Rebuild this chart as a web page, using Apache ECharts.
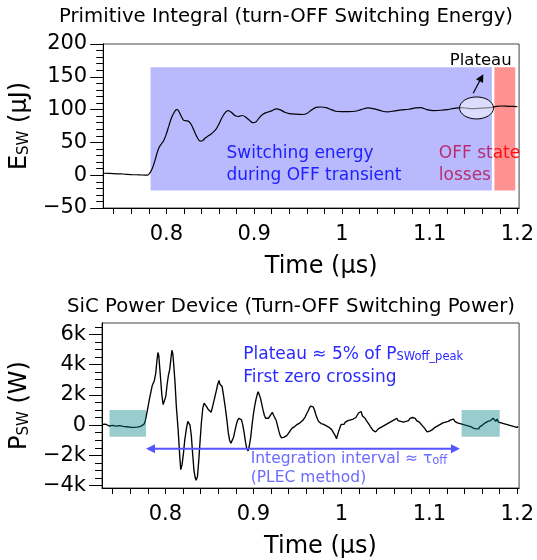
<!DOCTYPE html>
<html><head><meta charset="utf-8">
<script src="https://cdn.jsdelivr.net/npm/echarts@6/dist/echarts.min.js"></script>
<style>html,body{margin:0;padding:0;background:#fff}#c{width:537px;height:560px}</style>
</head><body><div id="c"></div>
<script>
const FONT = 'DejaVu Sans';

// ---- axis ticks ----
const timeLabels = [0.8, 0.9, 1, 1.1, 1.2];
const timeTicks = [0.74, 0.76, 0.78, 0.8, 0.82, 0.84, 0.86, 0.88, 0.9, 0.92, 0.94, 0.96, 0.98, 1, 1.02, 1.04, 1.06, 1.08, 1.1, 1.12, 1.14, 1.16, 1.18, 1.2];
const energyLabels = [-50, 0, 50, 100, 150, 200];
const energyTicks = [-50, -40, -30, -20, -10, 0, 10, 20, 30, 40, 50, 60, 70, 80, 90, 100, 110, 120, 130, 140, 150, 160, 170, 180, 190, 200];
const powerLabels = [-4000, -2000, 0, 2000, 4000, 6000];
const powerTicks = [-4000, -3500, -3000, -2500, -2000, -1500, -1000, -500, 0, 500, 1000, 1500, 2000, 2500, 3000, 3500, 4000, 4500, 5000, 5500, 6000, 6500];

// ---- data: switching energy (µJ) vs time (µs) ----
const energyTrace = [
  [0.728, 3], [0.74, 2.5], [0.75, 1.8], [0.76, 1], [0.77, 0.4], [0.7785, 0], [0.781, 3], [0.7835, 9],
  [0.786, 18], [0.789, 32], [0.7915, 42], [0.7945, 48], [0.797, 53], [0.8, 63], [0.803, 76], [0.806, 88],
  [0.809, 96], [0.8115, 100], [0.8135, 99], [0.8165, 91], [0.8195, 84], [0.8225, 83], [0.8255, 82],
  [0.8285, 77], [0.8315, 68], [0.835, 58], [0.8385, 52], [0.8415, 53], [0.8445, 57], [0.848, 60],
  [0.852, 64], [0.856, 69], [0.8595, 77], [0.8635, 88], [0.8675, 96], [0.8705, 98.5], [0.874, 96],
  [0.878, 91], [0.882, 89.5], [0.8865, 91], [0.8905, 88.5], [0.8945, 84], [0.8985, 80], [0.902, 81],
  [0.9055, 87], [0.91, 93], [0.915, 96], [0.92, 98], [0.925, 101], [0.93, 99.5], [0.935, 96], [0.94, 94],
  [0.9475, 93], [0.955, 92.5], [0.96, 94], [0.965, 99], [0.9705, 103.5], [0.976, 104], [0.982, 103],
  [0.988, 100], [0.993, 97.5], [1.0, 97], [1.008, 97], [1.015, 97.5], [1.022, 100], [1.03, 102.5],
  [1.037, 101], [1.045, 98], [1.052, 96.5], [1.06, 98], [1.068, 99.5], [1.076, 100.5], [1.084, 102.5],
  [1.09, 103], [1.097, 100], [1.105, 98.5], [1.113, 99], [1.12, 100], [1.128, 102], [1.136, 103],
  [1.143, 102], [1.15, 101.5], [1.157, 102], [1.164, 102.5], [1.171, 103.5], [1.176, 105], [1.182, 105.5],
  [1.19, 105], [1.2, 104.5]
];

// ---- data: switching power (W) vs time (µs) ----
const powerTrace = [
  [0.728, 40], [0.730, -30], [0.732, 60], [0.734, 10], [0.736, -60], [0.738, 30], [0.740, -20], [0.742, 50],
  [0.744, -70], [0.746, 0], [0.748, -40], [0.750, 40], [0.752, -90], [0.754, -20], [0.756, -110], [0.758, -50],
  [0.760, -140], [0.762, -60], [0.764, -150], [0.766, -80], [0.768, -130], [0.770, -40], [0.772, -90],
  [0.774, 20], [0.776, 80], [0.777, 230], [0.779, 800], [0.782, 1750], [0.785, 2600], [0.7875, 2950],
  [0.789, 3400], [0.7905, 4300], [0.7915, 4800], [0.7925, 4600], [0.794, 3500], [0.796, 2000],
  [0.7975, 1350], [0.799, 1300], [0.8005, 1900], [0.802, 2700], [0.8035, 3300], [0.805, 3700],
  [0.8065, 4500], [0.8075, 4950], [0.8085, 4700], [0.8095, 4000], [0.811, 2800], [0.8125, 1200],
  [0.8145, -300], [0.8165, -2200], [0.8175, -2950], [0.819, -2600], [0.8205, -1900], [0.822, -1000],
  [0.824, -200], [0.8255, 250], [0.8265, 350], [0.828, 0], [0.8295, -700], [0.831, -1900], [0.8325, -3000],
  [0.834, -3500], [0.835, -3650], [0.8365, -3400], [0.838, -2300], [0.8395, -1000], [0.841, 200],
  [0.8425, 1100], [0.844, 1450], [0.8455, 1350], [0.847, 1200], [0.8485, 1050], [0.8505, 950], [0.852, 850],
  [0.854, 1300], [0.856, 1800], [0.858, 2300], [0.8595, 2700], [0.861, 2950], [0.862, 2700], [0.863, 2800],
  [0.8645, 2550], [0.866, 2000], [0.868, 1200], [0.870, 300], [0.8715, -500], [0.873, -1000], [0.8745, -1200],
  [0.876, -1100], [0.8775, -800], [0.879, -400], [0.8805, 0], [0.882, 300], [0.8835, 450], [0.885, 500],
  [0.8865, 350], [0.888, 0], [0.8895, -500], [0.891, -1100], [0.8925, -1550], [0.894, -1700], [0.8955, -1350],
  [0.897, -800], [0.8985, 0], [0.900, 700], [0.9015, 1250], [0.903, 1700], [0.9045, 2050], [0.9055, 2200],
  [0.9065, 2100], [0.908, 1800], [0.9095, 1400], [0.911, 1000], [0.9125, 650], [0.914, 450], [0.9155, 350],
  [0.917, 450], [0.9185, 500], [0.920, 700], [0.9215, 850], [0.923, 650], [0.9245, 600], [0.926, 300],
  [0.9275, -50], [0.929, -400], [0.9305, -700], [0.932, -850], [0.9335, -950], [0.935, -800], [0.9365, -900],
  [0.938, -700], [0.9395, -600], [0.941, -450], [0.9425, -350], [0.944, -200], [0.9455, -250], [0.947, -100],
  [0.9485, -150], [0.950, 50], [0.9515, 0], [0.953, 150], [0.9545, 100], [0.956, 300], [0.9575, 400],
  [0.959, 550], [0.9605, 750], [0.962, 900], [0.9635, 1100], [0.965, 1250], [0.9665, 1350], [0.968, 1200],
  [0.9695, 1000], [0.971, 700], [0.9725, 450], [0.974, 250], [0.9755, 200], [0.977, 100], [0.9785, 150],
  [0.980, 50], [0.9815, 100], [0.983, -50], [0.9845, 0], [0.986, -150], [0.9875, -200], [0.989, -300],
  [0.9905, -450], [0.992, -550], [0.9935, -750], [0.9945, -900], [0.9955, -700], [0.997, -400], [0.9985, -150],
  [1.000, 50], [1.0015, 150], [1.003, 50], [1.0045, 200], [1.006, 150], [1.0075, 300], [1.009, 200],
  [1.0105, 350], [1.012, 250], [1.0135, 400], [1.015, 300], [1.0165, 500], [1.018, 450], [1.0195, 800],
  [1.021, 700], [1.0225, 900], [1.024, 600], [1.0255, 650], [1.027, 450], [1.0285, 300], [1.030, 200],
  [1.0315, 50], [1.033, -100], [1.0345, -200], [1.036, -350], [1.0375, -300], [1.039, -450], [1.0405, -350],
  [1.042, -250], [1.0435, -300], [1.045, -150], [1.0465, -200], [1.048, -50], [1.0495, -100], [1.051, 50],
  [1.0525, 0], [1.054, 150], [1.0555, 100], [1.057, 250], [1.0585, 150], [1.060, 350], [1.0615, 250],
  [1.063, 450], [1.0645, 300], [1.066, 400], [1.0675, 250], [1.069, 350], [1.0705, 200], [1.072, 300],
  [1.0735, 250], [1.075, 350], [1.0765, 300], [1.078, 450], [1.0795, 350], [1.081, 500], [1.0825, 400],
  [1.084, 450], [1.0855, 300], [1.087, 350], [1.0885, 200], [1.090, 150], [1.0915, 0], [1.093, -50],
  [1.0945, -200], [1.096, -300], [1.0975, -450], [1.099, -550], [1.1005, -400], [1.102, -450], [1.1035, -300],
  [1.105, -250], [1.1065, -150], [1.108, -200], [1.1095, -50], [1.111, -100], [1.1125, 50], [1.114, 0],
  [1.1155, 150], [1.117, 100], [1.1185, 200], [1.120, 150], [1.1215, 250], [1.123, 200], [1.1245, 350],
  [1.126, 300], [1.1275, 400], [1.129, 250], [1.1305, 300], [1.132, 150], [1.1335, 250], [1.135, 100],
  [1.1365, 200], [1.138, 50], [1.1395, 150], [1.141, 0], [1.1425, 100], [1.144, -50], [1.1455, 50],
  [1.147, -100], [1.1485, -50], [1.150, -200], [1.1515, -150], [1.153, -250], [1.1545, -150], [1.156, -250],
  [1.1575, -100], [1.159, -150], [1.1605, 0], [1.162, 50], [1.1635, 150], [1.165, 100], [1.1665, 250],
  [1.168, 150], [1.1695, 300], [1.171, 200], [1.1725, 450], [1.174, 350], [1.1755, 250], [1.177, 400],
  [1.1785, 200], [1.180, 300], [1.1815, 150], [1.183, 250], [1.1845, 100], [1.186, 200], [1.1875, 50],
  [1.189, 150], [1.1905, 0], [1.192, 100], [1.1935, -50], [1.195, 50], [1.1965, -100], [1.198, -50],
  [1.1995, -150], [1.201, -100]
];

// ---- annotation regions (data units: [t0, t1, y0, y1]) ----
const transientRegion = [0.782, 1.171, -23.5, 164.5];
const offStateRegion = [1.1739, 1.1976, -23.5, 164.5];
const plateauEllipse = [1.1535, 102.5];          // centre (t, E)
const plateauArrow = [[1.1497, 125], [1.1612, 154]];
const preWindow = [0.7365, 0.778, -770, 1000];
const postWindow = [1.1367, 1.18, -770, 1000];
const integrationSpan = [0.778, 1.1348, -1570];

const minus = s => String(s).replace('-', '\u2212');

const chart = echarts.init(document.getElementById('c'), null, {renderer: 'canvas'});

function xAxisCfg(grid) {
  return {
    type: 'value', gridIndex: grid, position: 'bottom', min: 0.728, max: 1.202,
    axisLine: {show: true, onZero: false, lineStyle: {color: '#000', width: 1}},
    axisTick: {show: true, customValues: timeTicks, length: 6, lineStyle: {color: '#000'}},
    axisLabel: {customValues: timeLabels, fontSize: 21, fontFamily: FONT, color: '#000', margin: 16},
    splitLine: {show: false},
    name: 'Time (μs)', nameLocation: 'middle', nameGap: 47,
    nameTextStyle: {fontSize: 24, fontFamily: FONT, color: '#000', padding: [0, 0, 0, 20]}
  };
}
const nameRich = {
  a: {fontSize: 24, fontFamily: FONT, color: '#000'},
  b: {fontSize: 15, fontFamily: FONT, color: '#000', verticalAlign: 'bottom'}
};
// main axis: all ticks short; overlay axis: long major ticks
function yMain(grid, min, max, ticks, labels, fmt, name) {
  return {
    type: 'value', gridIndex: grid, position: 'left', offset: 0, min: min, max: max,
    axisLine: {show: true, onZero: false, lineStyle: {color: '#000'}},
    axisTick: {show: true, customValues: ticks, length: 7, lineStyle: {color: '#000'}},
    axisLabel: {customValues: labels, fontSize: 21, fontFamily: FONT, color: '#000', margin: 16, formatter: fmt},
    splitLine: {show: false},
    name: name, nameLocation: 'middle', nameGap: 61, nameTextStyle: {rich: nameRich}
  };
}
function yMajor(grid, min, max, labels) {
  return {
    type: 'value', gridIndex: grid, position: 'left', offset: 0, min: min, max: max,
    axisLine: {show: true, onZero: false, lineStyle: {color: '#000'}},
    axisLabel: {show: false}, splitLine: {show: false},
    axisTick: {show: true, customValues: labels, length: 13, lineStyle: {color: '#000'}}
  };
}

const option = {
  animation: false,
  backgroundColor: '#fff',
  grid: [
    {left: 98, right: 16, top: 44, height: 164, show: true, borderColor: '#444', borderWidth: 1, backgroundColor: 'transparent'},
    {left: 98, right: 16, top: 323, height: 165, show: true, borderColor: '#444', borderWidth: 1, backgroundColor: 'transparent'}
  ],
  xAxis: [xAxisCfg(0), xAxisCfg(1)],
  yAxis: [
    yMain(0, -50, 200, energyTicks, energyLabels, v => minus(v), '{a|E}{b|SW}{a| (μJ)}'),
    yMain(1, -4160, 6750, powerTicks, powerLabels, v => minus(v === 0 ? '0' : (v / 1000) + 'k'), '{a|P}{b|SW}{a| (W)}'),
    yMajor(0, -50, 200, energyLabels),
    yMajor(1, -4160, 6750, powerLabels)
  ],
  series: [
    {type: 'line', xAxisIndex: 0, yAxisIndex: 0, data: energyTrace, showSymbol: false, smooth: 0.3,
     lineStyle: {color: '#000', width: 1.2}, z: 2, silent: true},
    {type: 'line', xAxisIndex: 1, yAxisIndex: 1, data: powerTrace, showSymbol: false,
     lineStyle: {color: '#000', width: 1.35}, z: 2, silent: true}
  ]
};
chart.setOption(option);

const P0 = (x, y) => chart.convertToPixel({xAxisIndex: 0, yAxisIndex: 0}, [x, y]);
const P1 = (x, y) => chart.convertToPixel({xAxisIndex: 1, yAxisIndex: 1}, [x, y]);
function rectEl(fn, r, fill, z) {
  const a = fn(r[0], r[3]), b = fn(r[1], r[2]);
  return {type: 'rect', z: z, silent: true, shape: {x: a[0], y: a[1], width: b[0] - a[0], height: b[1] - a[1]}, style: {fill: fill}};
}
function arrowEls(p0, p1, color, width, head, hw, both, z) {
  const els = [];
  const dx = p1[0] - p0[0], dy = p1[1] - p0[1], L = Math.hypot(dx, dy), ux = dx / L, uy = dy / L;
  const s0 = both ? [p0[0] + ux * head * 0.8, p0[1] + uy * head * 0.8] : p0;
  const s1 = [p1[0] - ux * head * 0.8, p1[1] - uy * head * 0.8];
  els.push({type: 'line', z: z, silent: true, shape: {x1: s0[0], y1: s0[1], x2: s1[0], y2: s1[1]}, style: {stroke: color, lineWidth: width}});
  const headAt = (tip, vx, vy) => ({type: 'polygon', z: z, silent: true, shape: {points: [
    tip, [tip[0] - vx * head - vy * hw, tip[1] - vy * head + vx * hw], [tip[0] - vx * head + vy * hw, tip[1] - vy * head - vx * hw]
  ]}, style: {fill: color}});
  els.push(headAt(p1, ux, uy));
  if (both) els.push(headAt(p0, -ux, -uy));
  return els;
}
function textEl(pos, text, color, size, z, extra) {
  return Object.assign({type: 'text', z: z, silent: true, x: pos[0], y: pos[1], style: Object.assign({
    text: text, fill: color, font: size + 'px "' + FONT + '"', align: 'left', verticalAlign: 'middle'
  }, extra || {})});
}

const ell = P0(plateauEllipse[0], plateauEllipse[1]);
const graphics = [
  // titles
  {type: 'text', z: 10, silent: true, x: 286, y: 17, style: {text: 'Primitive Integral (turn-OFF Switching Energy)', fill: '#000', font: '19.7px "' + FONT + '"', align: 'center', verticalAlign: 'middle'}},
  {type: 'text', z: 10, silent: true, x: 291, y: 307, style: {text: 'SiC Power Device (Turn-OFF Switching Power)', fill: '#000', font: '19.7px "' + FONT + '"', align: 'center', verticalAlign: 'middle'}},
  // top: OFF state text drawn below the shaded regions
  textEl(P0(1.1105, 33.4), 'OFF state', '#ff0000', 17, 0),
  textEl(P0(1.1105, -1), 'losses', '#ff0000', 17, 0),
  rectEl(P0, transientRegion, 'rgba(100,100,250,0.45)', 1),
  rectEl(P0, offStateRegion, 'rgba(255,35,35,0.5)', 1),
  textEl(P0(0.8685, 33.4), 'Switching energy', '#2020ff', 17, 5),
  textEl(P0(0.8685, -1), 'during OFF transient', '#2020ff', 17, 5),
  {type: 'ellipse', z: 4, silent: true, shape: {cx: ell[0], cy: ell[1], rx: 17, ry: 11}, style: {fill: 'rgba(255,255,255,0.5)', stroke: '#000', lineWidth: 1}},
  ...arrowEls(P0(plateauArrow[0][0], plateauArrow[0][1]), P0(plateauArrow[1][0], plateauArrow[1][1]), '#000', 1.2, 8, 4, false, 5),
  textEl(P0(1.1935, 175), 'Plateau', '#000', 16.5, 5, {align: 'right'}),
  // bottom
  rectEl(P1, preWindow, 'rgba(0,128,128,0.4)', 3),
  rectEl(P1, postWindow, 'rgba(0,128,128,0.4)', 3),
  ...arrowEls(P1(integrationSpan[0], integrationSpan[2]), P1(integrationSpan[1], integrationSpan[2]), '#5555ff', 2, 9, 4.5, true, 5),
  textEl(P1(0.8885, 4680), '{m|Plateau ≈ 5% of P}{s|SWoff_peak}', '#2a2aff', 17, 5, {rich: {
    m: {fontSize: 17, fontFamily: FONT, fill: '#2a2aff'}, s: {fontSize: 11.5, fontFamily: FONT, fill: '#2a2aff', verticalAlign: 'bottom'}}}),
  textEl(P1(0.8885, 3110), 'First zero crossing', '#2a2aff', 17, 5),
  textEl(P1(0.897, -2250), '{m|Integration interval ≈ τ}{s|off}', '#6b6bff', 15.5, 5, {rich: {
    m: {fontSize: 15.5, fontFamily: FONT, fill: '#6b6bff'}, s: {fontSize: 11.5, fontFamily: FONT, fill: '#6b6bff', verticalAlign: 'bottom'}}}),
  textEl(P1(0.897, -3480), '(PLEC method)', '#6b6bff', 15.5, 5)
];
chart.setOption({graphic: graphics});
</script>
</body></html>
